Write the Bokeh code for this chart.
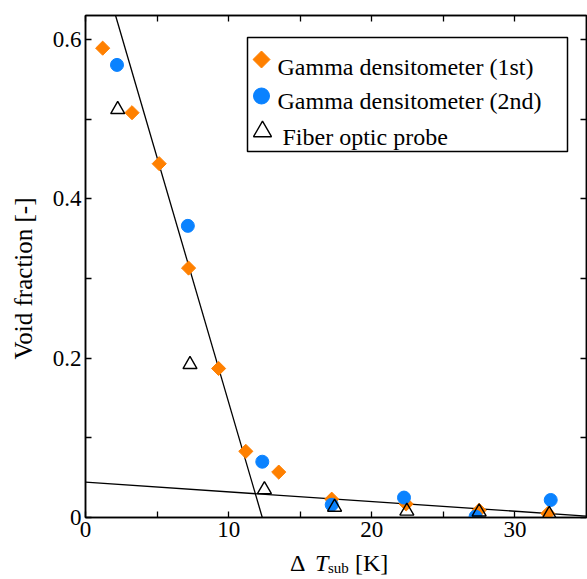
import math
from bokeh.plotting import figure
from bokeh.layouts import column
from bokeh.models import (Range1d, FixedTicker, LinearAxis, Label, BoxAnnotation,
                          CustomJSTickFormatter, Div)
from bokeh.core.properties import value
from bokeh.embed import file_html
from bokeh.resources import INLINE

# ---- data ----
g1_x = [1.2, 3.25, 5.15, 7.2, 9.3, 11.2, 13.5, 17.2, 22.4, 27.5, 32.3]
g1_y = [0.589, 0.508, 0.444, 0.313, 0.187, 0.083, 0.057, 0.023, 0.017, 0.009, 0.005]

g2_x = [2.2, 7.15, 12.35, 17.2, 22.25, 27.25, 32.5]
g2_y = [0.568, 0.366, 0.070, 0.016, 0.025, 0.001, 0.022]

fo_x = [2.25, 7.3, 12.5, 17.4, 22.45, 27.5, 32.4]
fo_y = [0.512, 0.192, 0.035, 0.013, 0.008, 0.007, 0.004]

fit1_x = [2.1, 12.35]
fit1_y = [0.63, 0.0]
fit2_x = [0.0, 35.0]
fit2_y = [0.0443, 0.0018]

x_major = [0, 10, 20, 30]
x_minor = [5, 15, 25]
y_major = [0.0, 0.2, 0.4, 0.6]
y_minor = [0.1, 0.3, 0.5]

series_labels = ["Gamma densitometer (1st)", "Gamma densitometer (2nd)", "Fiber optic probe"]
y_title = "Void fraction [-]"
x_title_parts = ["Δ", "T", "sub", "[K]"]

ORANGE = "#FF8000"
BLUE = "#0A82FF"
FONT = "Liberation Serif"

# ---- layout (pixel geometry) ----
W, H = 587, 579
H_MAIN = 548                      # main figure; the x title strip sits below it
FL, FR, FT, FB = 85, 586, 15, 517
XMIN, XMAX, YMIN, YMAX = 0, 35, 0, 0.63

def px_x(px):
    return XMIN + (px - FL) / (FR - FL) * (XMAX - XMIN)

def px_y(py):
    return YMIN + (FB - py) / (FB - FT) * (YMAX - YMIN)

p = figure(width=W, height=H_MAIN, output_backend="svg", toolbar_location=None,
           title=None,
           x_range=Range1d(XMIN, XMAX), y_range=Range1d(YMIN, YMAX),
           min_border_left=FL, min_border_right=W - FR, min_border_top=FT,
           min_border_bottom=H_MAIN - FB,
           x_axis_location=None, y_axis_location=None)
p.grid.visible = False
p.outline_line_color = "black"
p.outline_line_width = 1.5
p.background_fill_color = "white"
p.border_fill_color = "white"

def style_axis(ax, labels=True):
    ax.axis_line_color = "black"
    ax.axis_line_width = 1.5
    ax.major_tick_in = 6
    ax.major_tick_out = 0
    ax.minor_tick_in = 6
    ax.minor_tick_out = 0
    ax.major_tick_line_width = 1.3
    ax.minor_tick_line_width = 1.3
    ax.major_label_text_font = FONT
    ax.major_label_text_font_size = "23px"
    ax.major_label_text_color = "black"
    ax.major_label_standoff = 4
    if not labels:
        ax.major_label_text_font_size = "0px"
        ax.major_label_text_color = None
        ax.major_label_standoff = 0

xb = LinearAxis(ticker=FixedTicker(ticks=x_major, minor_ticks=x_minor))
style_axis(xb)
xt = LinearAxis(ticker=FixedTicker(ticks=x_major, minor_ticks=x_minor))
style_axis(xt, labels=False)
yl = LinearAxis(ticker=FixedTicker(ticks=y_major, minor_ticks=y_minor),
                formatter=CustomJSTickFormatter(code="return tick == 0 ? '0' : tick.toFixed(1);"))
style_axis(yl)
yr = LinearAxis(ticker=FixedTicker(ticks=y_major, minor_ticks=y_minor))
style_axis(yr, labels=False)
p.add_layout(xb, "below")
p.add_layout(xt, "above")
p.add_layout(yl, "left")
p.add_layout(yr, "right")

# fit lines
p.line(fit1_x, fit1_y, line_color="black", line_width=1.3)
p.line(fit2_x, fit2_y, line_color="black", line_width=1.3)

# data
p.scatter(g1_x, g1_y, marker="square", size=10, angle=math.pi / 4,
          fill_color=ORANGE, line_color=ORANGE)
p.scatter(g2_x, g2_y, marker="circle", size=13, fill_color=BLUE, line_color=BLUE)
p.scatter(fo_x, fo_y, marker="triangle", size=14, fill_color=None,
          line_color="black", line_width=1.4)

# ---- legend (drawn in the frame) ----
p.add_layout(BoxAnnotation(left=px_x(247), right=px_x(567), top=px_y(37), bottom=px_y(151),
                           fill_color=None, line_color="black", line_width=1.5,
                           line_alpha=1))
p.scatter([px_x(261)], [px_y(59)], marker="square", size=12, angle=math.pi / 4,
          fill_color=ORANGE, line_color=ORANGE)
p.scatter([px_x(261)], [px_y(95.5)], marker="circle", size=16,
          fill_color=BLUE, line_color=BLUE)
p.scatter([px_x(262)], [px_y(131)], marker="triangle", size=18, fill_color=None,
          line_color="black", line_width=1.4)
p.text([px_x(277), px_x(277), px_x(282)], [px_y(66), px_y(100), px_y(136)],
       text=series_labels, text_font=value(FONT), text_font_size="24px",
       text_baseline="alphabetic", text_align="left", text_color="black")

# y-axis title (left side panel)
p.add_layout(Label(x=px_x(23), y=px_y(278), angle=math.pi / 2,
                   text=y_title, text_align="center", text_baseline="middle",
                   text_font=FONT, text_font_size="25px", text_color="black"), "left")

# ---- x-axis title strip (HTML):  Δ T_sub [K] ----
HS = H - H_MAIN

def span(txt, left, top, size, italic=False):
    style = ("position:absolute;white-space:nowrap;line-height:1;"
             f"left:{left}px;top:{top}px;font-size:{size}px;")
    if italic:
        style += "font-style:italic;"
    return f'<span style="{style}">{txt}</span>'

html = ('<div style="position:relative;width:%dpx;height:%dpx;overflow:hidden;'
        "font-family:'Liberation Serif',serif;color:black;margin:0;padding:0;\">" % (W, HS)
        + span(x_title_parts[0], 290, 3, 24)
        + span(x_title_parts[1], 315, 3, 24, italic=True)
        + span(x_title_parts[2], 328, 13, 15)
        + span(x_title_parts[3], 355, 3, 24)
        + "</div>")
t = Div(text=html, width=W, height=HS, margin=0, styles={"margin": "0", "padding": "0"})

layout = column(p, t, spacing=0)
open("out.html", "w").write(file_html(layout, INLINE))
